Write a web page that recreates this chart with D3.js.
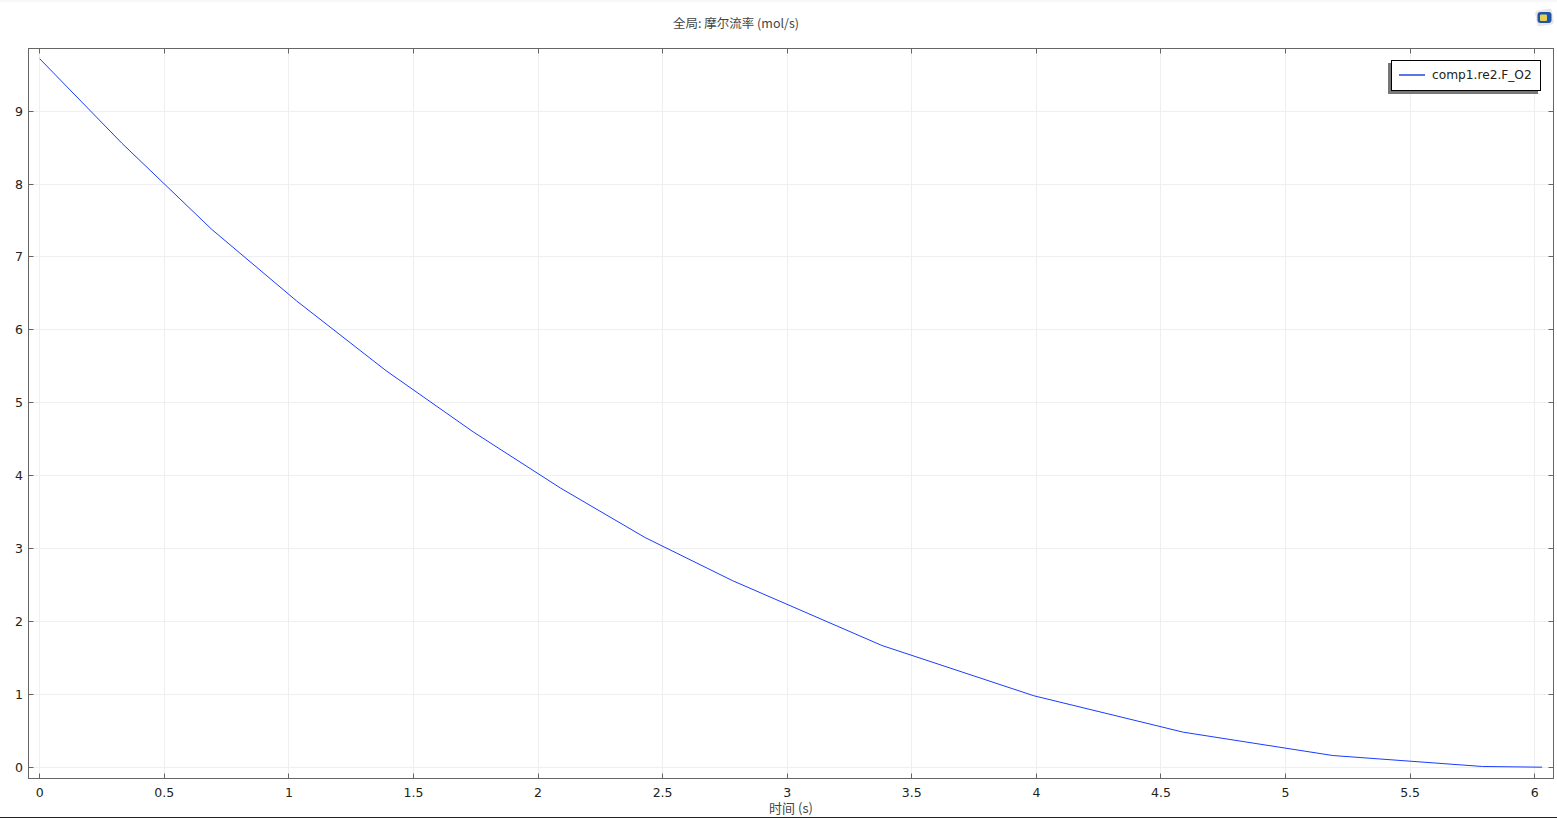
<!DOCTYPE html>
<html><head><meta charset="utf-8">
<script src="https://cdn.jsdelivr.net/npm/d3@7"></script>
<style>
html,body{margin:0;padding:0;background:#fff;overflow:hidden}
text{font-family:"DejaVu Sans",sans-serif}
</style></head><body>
<svg id="c" width="1557" height="818"></svg>
<script>
const times=[0,0.33,0.69,1.03,1.39,1.74,2.09,2.43,2.78,3.38,3.99,4.59,5.19,5.79,6.03];
const flowO2=[9.72,8.56,7.38,6.4,5.44,4.6,3.83,3.15,2.56,1.67,0.98,0.48,0.16,0.01,0];
const xTicks=[0,0.5,1,1.5,2,2.5,3,3.5,4,4.5,5,5.5,6];
const yTicks=[0,1,2,3,4,5,6,7,8,9];
const titleText="全局: 摩尔流率 (mol/s)";
const xLabel="时间 (s)";
const seriesName="comp1.re2.F_O2";

const svg=d3.select("#c");
const L=28.5,R=1553.5,T=48.5,B=778.5;
const x=d3.scaleLinear().domain([0,6]).range([39.7,1534.7]);
const y=d3.scaleLinear().domain([0,9]).range([767.2,111.2]);
const cjk='"Noto Sans CJK SC","DejaVu Sans",sans-serif';
const px=d=>Math.floor(x(d))+.5, py=d=>Math.floor(y(d))+.5;

svg.append("rect").attr("width",1557).attr("height",2).attr("fill","#f7f7fc");
svg.append("rect").attr("y",817).attr("width",1557).attr("height",1).attr("fill","#222");

const grid=svg.append("g").attr("stroke","#efefef").attr("stroke-width",1);
grid.selectAll(".v").data(xTicks).join("line").attr("x1",px).attr("x2",px).attr("y1",T).attr("y2",B);
grid.selectAll(".h").data(yTicks).join("line").attr("y1",py).attr("y2",py).attr("x1",L).attr("x2",R);

const ax=svg.append("g").attr("stroke","#666").attr("stroke-width",1);
ax.selectAll(".b").data(xTicks).join("line").attr("x1",px).attr("x2",px).attr("y1",B).attr("y2",B-5);
ax.selectAll(".t").data(xTicks).join("line").attr("x1",px).attr("x2",px).attr("y1",T).attr("y2",T+5);
ax.selectAll(".l").data(yTicks).join("line").attr("y1",py).attr("y2",py).attr("x1",L).attr("x2",L+5);
ax.selectAll(".r").data(yTicks).join("line").attr("y1",py).attr("y2",py).attr("x1",R).attr("x2",R-5);
svg.append("rect").attr("x",L).attr("y",T).attr("width",R-L).attr("height",B-T).attr("fill","none").attr("stroke","#666");

svg.append("path").datum(times.map((t,i)=>[t,flowO2[i]]))
 .attr("d",d3.line().x(d=>x(d[0])).y(d=>y(d[1])))
 .attr("fill","none").attr("stroke","#1a3cff").attr("stroke-width",1);

svg.append("g").selectAll("text").data(xTicks).join("text")
 .attr("x",d=>x(d)).attr("y",797).attr("text-anchor","middle").attr("font-size",12.5).attr("fill","#222").text(d=>d);
svg.append("g").selectAll("text").data(yTicks).join("text")
 .attr("x",23).attr("y",d=>y(d)+4.5).attr("text-anchor","end").attr("font-size",12.5).attr("fill","#222").text(d=>d);

svg.append("text").attr("x",736).attr("y",28).attr("text-anchor","middle").attr("font-size",12.5).attr("fill","#444").style("font-family",cjk).text(titleText);
svg.append("text").attr("x",791).attr("y",813).attr("text-anchor","middle").attr("font-size",13).attr("fill","#444").style("font-family",cjk).text(xLabel);

// legend
svg.append("rect").attr("x",1388).attr("y",63).attr("width",150).attr("height",31).attr("fill","#777");
svg.append("rect").attr("x",1391.5).attr("y",60.5).attr("width",149).attr("height",30).attr("fill","#fff").attr("stroke","#000");
svg.append("line").attr("x1",1399).attr("x2",1425).attr("y1",75).attr("y2",75).attr("stroke","#2446e0").attr("stroke-width",1.5);
svg.append("text").attr("x",1432).attr("y",79).attr("font-size",12.2).attr("fill","#222").text(seriesName);

// window icon
const ic=svg.append("g").attr("transform","translate(1544.5,17.5)");
ic.append("rect").attr("x",-8.5).attr("y",-8).attr("width",17).attr("height",16).attr("rx",3).attr("fill","#e6e6e6").attr("transform","rotate(-10)");
ic.append("rect").attr("x",-7).attr("y",-5.5).attr("width",14).attr("height",11).attr("rx",3).attr("fill","#1f55a8");
ic.append("rect").attr("x",-4.5).attr("y",-3).attr("width",7).attr("height",6.5).attr("rx",1).attr("fill","#e3cf55");
</script>
</body></html>
